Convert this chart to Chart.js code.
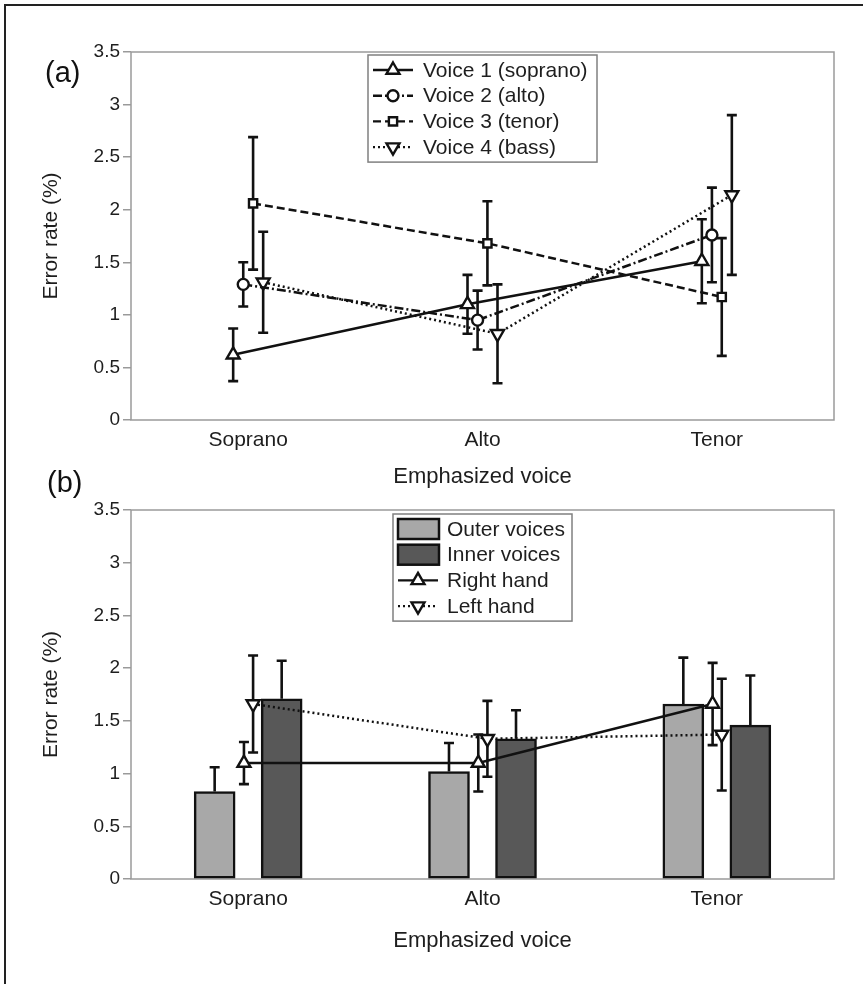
<!DOCTYPE html>
<html>
<head>
<meta charset="utf-8">
<script src="https://cdn.jsdelivr.net/npm/chart.js@4.4.0/dist/chart.umd.min.js"></script>
<style>
html, body { margin: 0; padding: 0; background: #fff; }
body { width: 863px; height: 984px; position: relative; overflow: hidden; font-family: "Liberation Sans", Arial, sans-serif; }
#frame { position: absolute; left: 4px; top: 4px; width: 900px; height: 1000px; border-left: 2px solid #222; border-top: 2px solid #222; }
.panel { position: absolute; left: 0; width: 863px; }
#wrapA { top: 0; height: 490px; }
#wrapB { top: 490px; height: 494px; }
.tag { position: absolute; font-size: 29px; color: #111; line-height: 32px; }
</style>
</head>
<body>
<div id="frame"></div>
<div class="panel" id="wrapA"><canvas id="chartA" width="863" height="490"></canvas></div>
<div class="panel" id="wrapB"><canvas id="chartB" width="863" height="494"></canvas></div>
<div class="tag" style="left:45px;top:56px">(a)</div>
<div class="tag" style="left:47px;top:466px">(b)</div>
<script>
// categories on the x axis (both panels)
const categories = ['Soprano', 'Alto', 'Tenor'];

// panel (a): mean error rate (%) and error bar half-length per voice
const voice1 = [0.62, 1.10, 1.51];
const voice1Err = [0.25, 0.28, 0.40];
const voice2 = [1.29, 0.95, 1.76];
const voice2Err = [0.21, 0.28, 0.45];
const voice3 = [2.06, 1.68, 1.17];
const voice3Err = [0.63, 0.40, 0.56];
const voice4 = [1.31, 0.82, 2.14];
const voice4Err = [0.48, 0.47, 0.76];

// panel (b)
const outerVoices = [0.83, 1.02, 1.66];
const outerErr = [0.23, 0.27, 0.44];
const innerVoices = [1.71, 1.33, 1.46];
const innerErr = [0.36, 0.27, 0.47];
const rightHand = [1.10, 1.10, 1.66];
const rightErr = [0.20, 0.27, 0.39];
const leftHand = [1.66, 1.33, 1.37];
const leftErr = [0.46, 0.36, 0.53];

const textColor = '#1e1e1e';
const fontFam = '"Liberation Sans", Arial, sans-serif';

// small horizontal dodge so the marks don't sit on top of each other
function pts(values, dodge) {
    return values.map((v, i) => ({ x: i + dodge, y: v }));
}

const frameBox = {
    id: 'frameBox',
    beforeDatasetsDraw(chart) {
        const { ctx, chartArea: a } = chart;
        ctx.save();
        ctx.strokeStyle = '#9a9a9a';
        ctx.lineWidth = 1.5;
        ctx.strokeRect(a.left, a.top, a.right - a.left, a.bottom - a.top);
        ctx.restore();
    }
};

const errorBars = {
    id: 'errorBars',
    beforeDatasetsDraw(chart) {
        const ctx = chart.ctx;
        const yScale = chart.scales.y;
        chart.data.datasets.forEach((ds, i) => {
            if (!ds.errors) return;
            const meta = chart.getDatasetMeta(i);
            ctx.save();
            ctx.strokeStyle = '#111';
            ctx.lineWidth = 2.6;
            meta.data.forEach((el, j) => {
                const d = ds.data[j];
                const v = typeof d === 'object' ? d.y : d;
                const e = ds.errors[j];
                const top = yScale.getPixelForValue(v + e);
                const bottom = ds.errorUp ? el.y : yScale.getPixelForValue(v - e);
                ctx.beginPath();
                ctx.moveTo(el.x, top);
                ctx.lineTo(el.x, bottom);
                ctx.moveTo(el.x - 5, top);
                ctx.lineTo(el.x + 5, top);
                if (!ds.errorUp) {
                    ctx.moveTo(el.x - 5, bottom);
                    ctx.lineTo(el.x + 5, bottom);
                }
                ctx.stroke();
            });
            ctx.restore();
        });
    }
};

const boxLegend = {
    id: 'boxLegend',
    afterDatasetsDraw(chart, args, opts) {
        const ctx = chart.ctx;
        const a = chart.chartArea;
        const dsets = chart.data.datasets;
        const x0 = (a.left + a.right) / 2 - opts.width / 2;
        const y0 = a.top + opts.offsetTop;
        const h = opts.firstRow * 2 + opts.rowGap * (dsets.length - 1);
        ctx.save();
        ctx.fillStyle = '#fff';
        ctx.fillRect(x0, y0, opts.width, h);
        ctx.strokeStyle = '#808080';
        ctx.lineWidth = 1.5;
        ctx.strokeRect(x0, y0, opts.width, h);
        dsets.forEach((ds, i) => {
            const cy = y0 + opts.firstRow + i * opts.rowGap;
            if (ds.type === 'bar') {
                ctx.fillStyle = ds.backgroundColor;
                ctx.fillRect(x0 + 5, cy - 10, 41, 20);
                ctx.strokeStyle = '#111';
                ctx.lineWidth = 2.5;
                ctx.strokeRect(x0 + 5, cy - 10, 41, 20);
            } else {
                ctx.strokeStyle = '#111';
                ctx.lineWidth = 2.4;
                ctx.setLineDash(ds.borderDash || []);
                ctx.beginPath();
                ctx.moveTo(x0 + 5, cy);
                ctx.lineTo(x0 + 45, cy);
                ctx.stroke();
                ctx.setLineDash([]);
                ctx.fillStyle = '#fff';
                Chart.helpers.drawPoint(ctx, {
                    pointStyle: ds.pointStyle,
                    radius: ds.pointRadius,
                    rotation: ds.pointRotation || 0,
                    borderWidth: 2.4
                }, x0 + 25, cy);
            }
            ctx.fillStyle = textColor;
            ctx.font = '21px ' + fontFam;
            ctx.textBaseline = 'middle';
            ctx.textAlign = 'left';
            ctx.fillText(ds.label, x0 + opts.textX, cy + 1);
        });
        ctx.restore();
    }
};

function lineSet(label, values, errs, dodge, dash, style, radius, rot) {
    return {
        type: 'line',
        label: label,
        data: pts(values, dodge),
        errors: errs,
        xAxisID: 'xl',
        borderColor: '#111',
        borderWidth: 2.5,
        borderDash: dash,
        pointStyle: style,
        pointRadius: radius,
        pointRotation: rot,
        pointBackgroundColor: '#fff',
        pointBorderColor: '#111',
        pointBorderWidth: 2.4,
        tension: 0,
        fill: false,
        order: 0
    };
}

function barSet(label, values, errs, dodge, color) {
    return {
        type: 'bar',
        label: label,
        data: pts(values, dodge),
        errors: errs,
        errorUp: true,
        xAxisID: 'xl',
        grouped: false,
        barThickness: 41,
        maxBarThickness: 41,
        backgroundColor: color,
        borderColor: '#111',
        borderWidth: 2.5,
        borderSkipped: false,
        order: 2
    };
}

function scaleOpts(xHeight) {
    return {
        x: {
            type: 'category',
            offset: true,
            grid: { display: false, drawTicks: false },
            border: { display: false },
            ticks: { padding: 8, color: textColor, font: { size: 21, family: fontFam } },
            title: { display: true, text: 'Emphasized voice', color: textColor,
                     font: { size: 22, family: fontFam }, padding: { top: 0, bottom: 0 } },
            afterFit: s => { s.height = xHeight; }
        },
        xl: { type: 'linear', display: false, offset: false, grid: { offset: false }, min: -0.5, max: 2.5 },
        y: {
            min: 0,
            max: 3.5,
            ticks: { stepSize: 0.5, padding: 3, color: textColor, font: { size: 19, family: fontFam },
                     callback: v => String(v) },
            grid: { drawOnChartArea: false, tickLength: 8, color: '#9a9a9a', lineWidth: 1.5 },
            border: { display: false },
            title: { display: true, text: 'Error rate (%)', color: textColor,
                     font: { size: 21, family: fontFam }, padding: { top: 1, bottom: 0 } },
            afterFit: s => { s.width = 93; }
        }
    };
}

new Chart(document.getElementById('chartA'), {
    type: 'line',
    data: {
        labels: categories,
        datasets: [
            lineSet('Voice 1 (soprano)', voice1, voice1Err, -0.064, [], 'triangle', 7.5, 0),
            lineSet('Voice 2 (alto)', voice2, voice2Err, -0.021, [9, 3, 2, 3], 'circle', 5.5, 0),
            lineSet('Voice 3 (tenor)', voice3, voice3Err, 0.021, [8, 4], 'rect', 5.8, 0),
            lineSet('Voice 4 (bass)', voice4, voice4Err, 0.064, [2, 3], 'triangle', 7.5, 180)
        ]
    },
    options: {
        responsive: false,
        animation: false,
        layout: { padding: { left: 38, right: 29, top: 52, bottom: 0 } },
        plugins: {
            legend: { display: false },
            tooltip: { enabled: false },
            boxLegend: { width: 229, offsetTop: 3, firstRow: 15, rowGap: 25.7, textX: 55 }
        },
        scales: scaleOpts(70)
    },
    plugins: [frameBox, errorBars, boxLegend]
});

new Chart(document.getElementById('chartB'), {
    type: 'bar',
    data: {
        labels: categories,
        datasets: [
            barSet('Outer voices', outerVoices, outerErr, -0.143, '#a8a8a8'),
            barSet('Inner voices', innerVoices, innerErr, 0.143, '#585858'),
            lineSet('Right hand', rightHand, rightErr, -0.018, [], 'triangle', 7.5, 0),
            lineSet('Left hand', leftHand, leftErr, 0.021, [2, 3], 'triangle', 7.5, 180)
        ]
    },
    options: {
        responsive: false,
        animation: false,
        layout: { padding: { left: 38, right: 29, top: 20, bottom: 30 } },
        plugins: {
            legend: { display: false },
            tooltip: { enabled: false },
            boxLegend: { width: 179, offsetTop: 4, firstRow: 15, rowGap: 25.7, textX: 54 }
        },
        scales: scaleOpts(75)
    },
    plugins: [frameBox, errorBars, boxLegend]
});
</script>
</body>
</html>
